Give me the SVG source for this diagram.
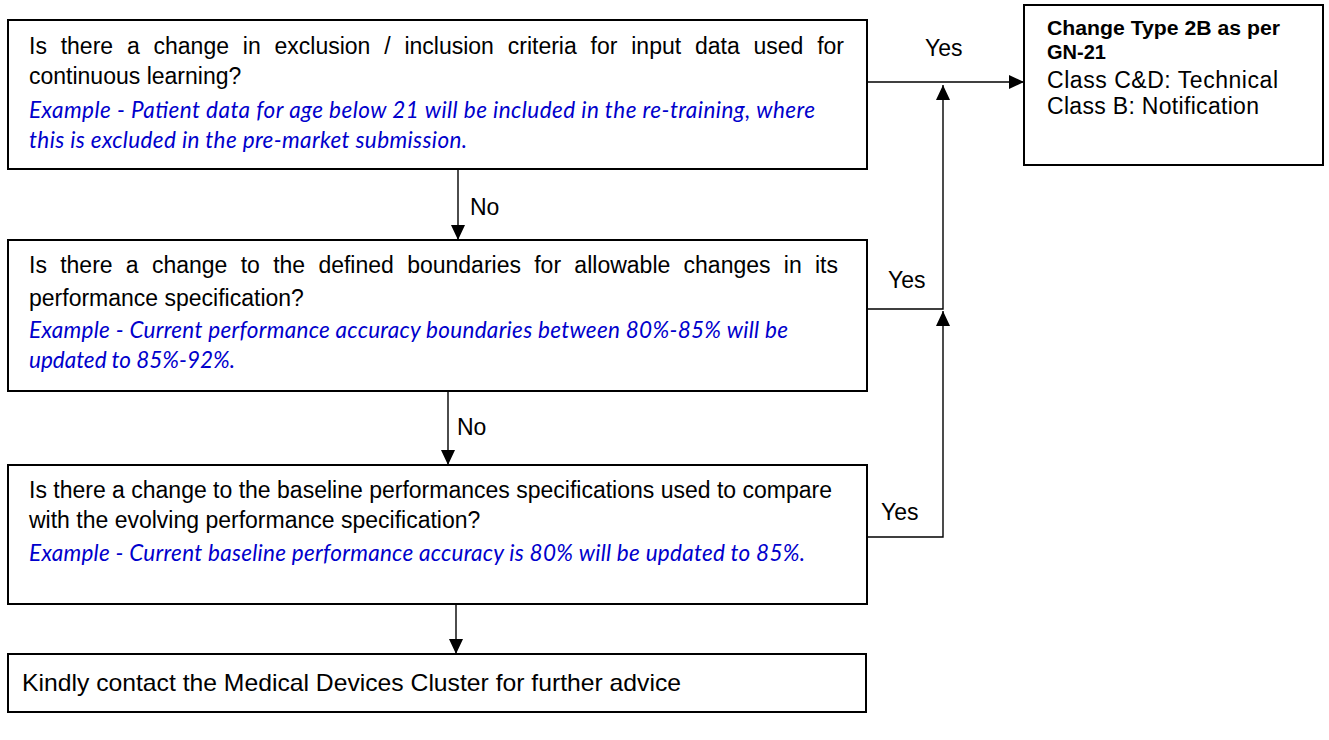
<svg xmlns="http://www.w3.org/2000/svg" width="1329" height="740" viewBox="0 0 1329 740">
<style>
.box{fill:#fff;stroke:#000;stroke-width:2}
.t{font-family:"Liberation Sans",Arial,sans-serif;font-size:23px;fill:#000}
.b{font-family:"Liberation Sans",Arial,sans-serif;font-size:20px;font-weight:bold;fill:#000}
.ex{font-family:Lato,"Open Sans",sans-serif;font-style:italic;font-size:22.5px;fill:#0000CC}
.c{fill:none;stroke:#000;stroke-width:1.4}
</style>
<defs>
<marker id="ah" markerUnits="userSpaceOnUse" markerWidth="15" markerHeight="14" refX="15" refY="7" orient="auto"><path d="M0,0 L15,7 L0,14 z" fill="#000"/></marker>
</defs>
<g id="connectors">
<line class="c" x1="867" y1="82" x2="1024" y2="82" marker-end="url(#ah)"/>
<polyline class="c" points="867,309 943,309 943,85" marker-end="url(#ah)"/>
<polyline class="c" points="867,537 943,537 943,311" marker-end="url(#ah)"/>
<line class="c" x1="458" y1="169" x2="458" y2="240" marker-end="url(#ah)"/>
<line class="c" x1="448" y1="391" x2="448" y2="465" marker-end="url(#ah)"/>
<line class="c" x1="456" y1="604" x2="456" y2="654" marker-end="url(#ah)"/>
<text class="t" x="925" y="56">Yes</text>
<text class="t" x="888" y="288">Yes</text>
<text class="t" x="881" y="520">Yes</text>
<text class="t" x="470" y="215">No</text>
<text class="t" x="457" y="435">No</text>
</g>
<g id="q1">
<rect class="box" x="8" y="20" width="859" height="149"/>
<text class="t" x="29" y="54" word-spacing="7.4" textLength="815" lengthAdjust="spacing">Is there a change in exclusion / inclusion criteria for input data used for</text>
<text class="t" x="29" y="84">continuous learning?</text>
<text class="ex" x="29" y="118" textLength="786" lengthAdjust="spacing">Example - Patient data for age below 21 will be included in the re-training, where</text>
<text class="ex" x="29" y="148" textLength="438" lengthAdjust="spacing">this is excluded in the pre-market submission.</text>
</g>
<g id="result">
<rect class="box" x="1024" y="5" width="299" height="160"/>
<text class="b" x="1047" y="35" textLength="233" lengthAdjust="spacingAndGlyphs">Change Type 2B as per</text>
<text class="b" x="1047" y="59">GN-21</text>
<text class="t" x="1047" y="88" textLength="231" lengthAdjust="spacing">Class C&amp;D: Technical</text>
<text class="t" x="1047" y="114" textLength="212" lengthAdjust="spacing">Class B: Notification</text>
</g>
<g id="q2">
<rect class="box" x="8" y="240" width="859" height="151"/>
<text class="t" x="29" y="273" word-spacing="6.9" textLength="809" lengthAdjust="spacing">Is there a change to the defined boundaries for allowable changes in its</text>
<text class="t" x="29" y="306">performance specification?</text>
<text class="ex" x="29" y="338" textLength="759" lengthAdjust="spacing">Example - Current performance accuracy boundaries between 80%-85% will be</text>
<text class="ex" x="29" y="368" textLength="206" lengthAdjust="spacing">updated to 85%-92%.</text>
</g>
<g id="q3">
<rect class="box" x="8" y="465" width="859" height="139"/>
<text class="t" x="29" y="498" textLength="803" lengthAdjust="spacing">Is there a change to the baseline performances specifications used to compare</text>
<text class="t" x="29" y="528">with the evolving performance specification?</text>
<text class="ex" x="29" y="561" textLength="776" lengthAdjust="spacing">Example - Current baseline performance accuracy is 80% will be updated to 85%.</text>
</g>
<g id="contact">
<rect class="box" x="8" y="654" width="858" height="58"/>
<text class="t" x="22" y="691" style="font-size:24px" textLength="659" lengthAdjust="spacingAndGlyphs">Kindly contact the Medical Devices Cluster for further advice</text>
</g>
</svg>
